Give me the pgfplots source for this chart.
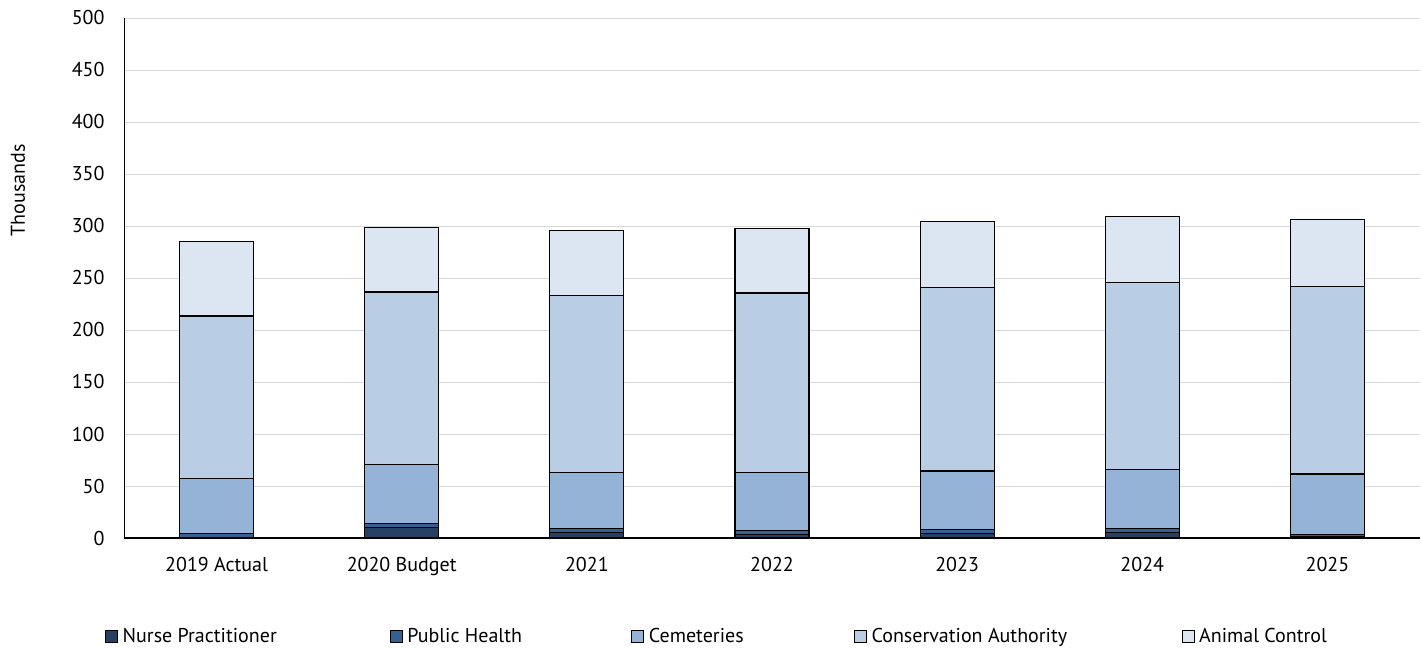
\documentclass[border=0pt]{standalone}
\usepackage{fontspec}
\setmainfont{PT Sans}
\usepackage{pgfplots}
\usepackage{pgfplotstable}
\pgfplotsset{compat=1.18}
\definecolor{cNP}{HTML}{254061}
\definecolor{cPH}{HTML}{376092}
\definecolor{cCE}{HTML}{95B3D7}
\definecolor{cCA}{HTML}{B9CDE5}
\definecolor{cAC}{HTML}{DCE6F2}
\definecolor{cgrid}{HTML}{D9D9D9}
\pgfplotstableread{
x NP PH CE CA AC
0 0.5 3.5 53.5 156 71.5
1 10 4 56.5 166 62
2 5 4 54 170 62.5
3 3.5 4 55.5 172.5 62
4 4.5 4 56 176 63.5
5 5 4 57 180 63.5
6 1 2 58.5 180 64.5
}\data
\begin{document}
\begin{tikzpicture}[font=\fontsize{20bp}{24bp}\selectfont]
\useasboundingbox (-124bp,-110bp) rectangle (1298bp,538bp);
\begin{axis}[
  at={(0,0)}, anchor=south west,
  scale only axis,
  width=1296bp, height=520bp,
  ybar stacked,
  bar width=74bp,
  xmin=-0.5, xmax=6.5,
  ymin=0, ymax=500,
  ytick={0,50,...,500},
  xtick=data,
  xticklabels={2019 Actual,2020 Budget,2021,2022,2023,2024,2025},
  axis x line*=bottom, axis y line*=left,
  x axis line style={-, line width=1.2pt},
  y axis line style={-, line width=0.8pt},
  major tick length=0pt,
  ymajorgrids,
  grid style={cgrid, line width=0.8pt},
  /pgf/number format/assume math mode=true,
  ticklabel style={font=\fontsize{20bp}{24bp}\selectfont},
  yticklabel style={xshift=-16bp},
  xticklabel style={yshift=-16bp},
  ylabel={Thousands},
  ylabel style={font=\fontsize{20bp}{24bp}\selectfont, at={(axis description cs:-0.0818,0.669)}, anchor=center},
  legend columns=5,
  legend style={at={(axis description cs:-0.0147,-0.1885)}, anchor=west, draw=none, inner sep=0pt, column sep=0pt,
    font=\fontsize{20bp}{24bp}\selectfont, nodes={inner xsep=0bp}},
  legend image code/.code={\draw[#1, line width=0.6pt, draw=black] (0bp,-6bp) rectangle (12bp,6bp);},
  every axis plot/.append style={draw=black, line width=1.2pt},
]
\addplot[fill=cNP] table[x=x,y=NP]{\data};
\addlegendentry{\hspace{5bp}\makebox[267bp][l]{Nurse Practitioner}}
\addplot[fill=cPH] table[x=x,y=PH]{\data};
\addlegendentry{\hspace{5bp}\makebox[224bp][l]{Public Health}}
\addplot[fill=cCE] table[x=x,y=CE]{\data};
\addlegendentry{\hspace{5bp}\makebox[205bp][l]{Cemeteries}}
\addplot[fill=cCA] table[x=x,y=CA]{\data};
\addlegendentry{\hspace{5bp}\makebox[310bp][l]{Conservation Authority}}
\addplot[fill=cAC] table[x=x,y=AC]{\data};
\addlegendentry{\hspace{5bp}Animal Control}
\end{axis}
\end{tikzpicture}
\end{document}
